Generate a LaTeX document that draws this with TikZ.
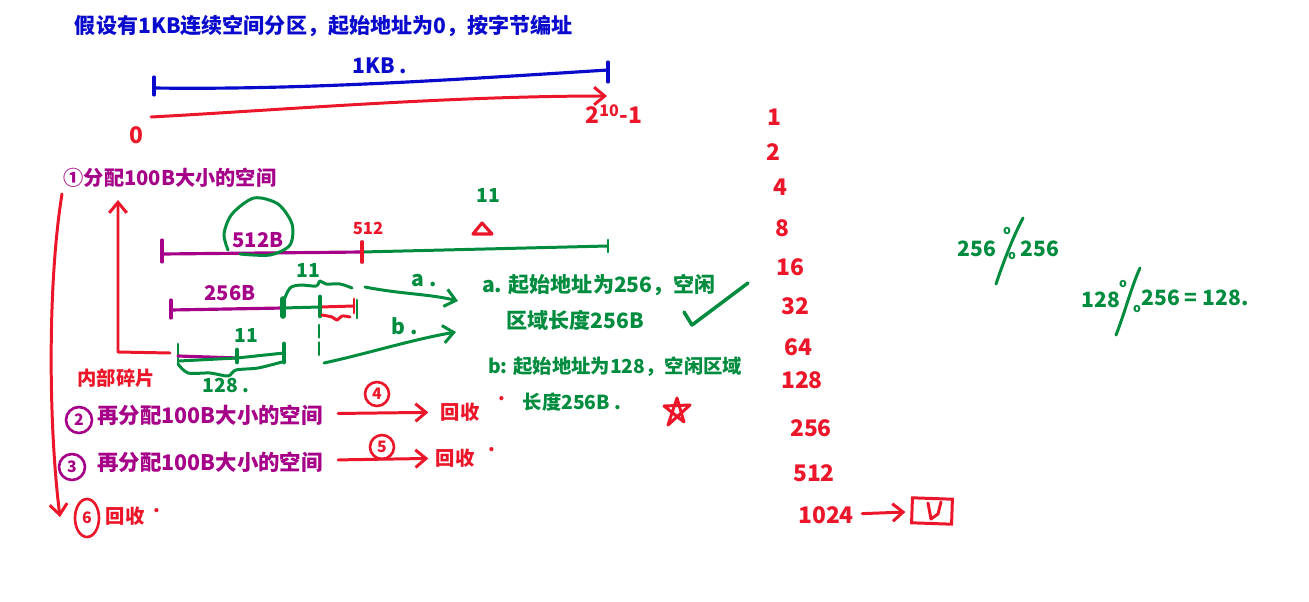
\documentclass[tikz,border=0pt]{standalone}
\usepackage{fontspec}
\setmainfont{Noto Sans CJK SC}
\usetikzlibrary{arrows.meta,shapes.geometric}
\definecolor{inkblue}{RGB}{10,10,205}
\definecolor{inkred}{RGB}{236,22,42}
\definecolor{inkgreen}{RGB}{0,140,62}
\definecolor{inkpurple}{RGB}{165,0,135}
\tikzset{
  bluepen/.style={draw=inkblue,line width=1.8pt,line cap=round,line join=round},
  redpen/.style={draw=inkred,line width=1.7pt,line cap=round,line join=round},
  greenpen/.style={draw=inkgreen,line width=1.7pt,line cap=round,line join=round},
  purplepen/.style={draw=inkpurple,line width=1.8pt,line cap=round,line join=round},
  bluetext/.style={text=inkblue,inner sep=0pt,font=\bfseries\fontsize{12}{14}\selectfont},
  redtext/.style={text=inkred,inner sep=0pt,font=\bfseries\fontsize{11}{13}\selectfont},
  numtext/.style={text=inkred,inner sep=0pt,font=\bfseries\fontsize{13}{14}\selectfont},
  greentext/.style={text=inkgreen,inner sep=0pt,font=\bfseries\fontsize{11}{13}\selectfont},
  answertext/.style={text=inkgreen,inner sep=0pt,font=\bfseries\fontsize{12}{13}\selectfont},
  purpletext/.style={text=inkpurple,inner sep=0pt,font=\bfseries\fontsize{11.5}{13}\selectfont},
  ring/.style={circle,line width=1.5pt,inner sep=0pt,minimum size=#1*0.02cm},
  barb/.style={-{Straight Barb[length=6pt,width=10pt,line width=1.7pt]}}
}
\begin{document}
\begin{tikzpicture}[x=0.02cm,y=-0.02cm]
\useasboundingbox (0,0) rectangle (1309,602);
\node[bluetext] (title) at (324,26) {假设有1KB连续空间分区，起始地址为0，按字节编址};
\node[bluetext] (sizeLabel) at (380,66) {1KB .};
\coordinate (blueA) at (154,88);
\coordinate (blueB) at (608,70);
\coordinate (redA) at (151,117);
\coordinate (redB) at (607,96);
\draw[bluepen] (blueA)++(0,-11)--++(0,18);
\draw[bluepen] (blueB)++(0,-8)--++(0,20);
\draw[bluepen] (blueA) .. controls (300,90) and (450,80) .. (blueB);
\draw[redpen,barb] (redA) .. controls (280,110) and (450,96) .. (redB);
\node[numtext] (zeroLabel) at (136,135) {0};
\node[numtext] (topLabel) at (614,114) {2\textsuperscript{10}-1};

\node[purpletext] (alloc1) at (170,178) {①分配100B大小的空间};

\coordinate (rowA) at (162,254);
\coordinate (rowB) at (362,252);
\coordinate (rowC) at (608,246);
\draw[purplepen] (rowA)++(0,-14)--++(0,22);
\draw[purplepen] (rowA) -- (rowB);
\draw[greenpen] (rowB) -- (rowC);
\draw[greenpen] (rowC)++(0,-6)--++(0,12);
\draw[redpen,line width=2.2pt] (rowB)++(0,-10)--++(0,20);
\draw[greenpen] plot[smooth] coordinates {(228,250) (224,234) (232,214) (254,198) (278,204) (292,224) (290,245) (270,255) (240,254)};
\node[purpletext] (halfA) at (258,240) {512B};
\node[redtext,font=\bfseries\fontsize{9.5}{10}\selectfont] (halfB) at (368,228) {512};
\node[greentext] (equalA) at (488,195) {11};
\draw[redpen,line width=1.8pt] (482,223)--(473,234)--(492,234)--cycle;

\coordinate (segA) at (171,310);
\coordinate (segB) at (283,308);
\coordinate (segC) at (320,307);
\coordinate (segD) at (354,306);
\draw[purplepen] (segA)++(0,-10)--++(0,18);
\draw[purplepen] (segA) -- (segB);
\draw[greenpen] (segB) -- (segC);
\draw[redpen] (segC) -- (segD);
\draw[greenpen,line width=3.2pt] (segB)++(0,-9)--++(0,17);
\draw[greenpen,line width=2.8pt] (segC)++(0,-10)--++(0,19);
\draw[redpen] (segD)++(0,-7)--++(0,14);
\draw[greenpen] (357,300)--(357,318);
\draw[redpen] plot[smooth] coordinates {(322,315) (332,317) (337,320) (342,316) (350,317)};
\node[purpletext] (quarter) at (230,293) {256B};
\draw[greenpen] plot[smooth] coordinates {(284,300) (290,288) (300,285) (316,286) (320,281) (326,284) (340,284) (352,288)};
\node[greentext] (equalB) at (308,270) {11};
\draw[greenpen,dash pattern=on 7pt off 3pt] (319,325)--(319,355);

\coordinate (lowA) at (178,356);
\coordinate (lowB) at (237,358);
\coordinate (lowC) at (284,353);
\draw[greenpen] (lowA)++(0,-12)--++(0,20);
\draw[purplepen] (lowA) -- (lowB);
\draw[greenpen] (179,361)--(lowB) -- (lowC);
\draw[greenpen,line width=2.8pt] (lowB)++(0,-8)--++(0,12);
\draw[greenpen,line width=2.8pt] (lowC)++(0,-9)--++(0,18);
\draw[greenpen] plot[smooth] coordinates {(178,364) (188,373) (210,373) (228,376) (236,370) (258,368) (282,362)};
\node[greentext] (equalC) at (246,335) {11};
\node[greentext] (quarterB) at (226,385) {128 .};

\coordinate (startA) at (365,287);
\coordinate (endA) at (458,301);
\coordinate (startB) at (324,363);
\coordinate (endB) at (456,332);
\draw[greenpen,barb] (startA) .. controls (400,294) and (430,294) .. (endA);
\draw[greenpen,barb] (startB) .. controls (370,353) and (410,340) .. (endB);
\node[answertext] (letterA) at (424,280) {a .};
\node[answertext] (letterB) at (405,326) {b .};

\coordinate (cornerA) at (170,353);
\coordinate (cornerB) at (118,352);
\coordinate (cornerC) at (118,200);
\draw[redpen,barb] (cornerA) -- (cornerB) -- (cornerC);
\node[redtext] (wasteLabel) at (116,378) {内部碎片};

\node[answertext] (answerA) at (599,285) {a. 起始地址为256，空闲};
\node[answertext] (answerAb) at (575,320) {区域长度256B};
\node[answertext,font=\bfseries\fontsize{11}{13}\selectfont] (answerB) at (615,367) {b: 起始地址为128，空闲区域};
\node[answertext,font=\bfseries\fontsize{11}{13}\selectfont] (answerBb) at (572,402) {长度256B .};
\draw[greenpen,line width=2pt] (684,312)--(692,325)--(748,283);
\draw[redpen] (664,406)--(690,405)--(668,425)--(677,398)--(684,422)--cycle;

\node[purpletext,font=\bfseries\fontsize{12.2}{13}\selectfont] (again2) at (210,415) {再分配100B大小的空间};
\node[purpletext,font=\bfseries\fontsize{12.2}{13}\selectfont] (again3) at (210,462) {再分配100B大小的空间};
\node[draw=inkpurple,text=inkpurple,ring=26,font=\bfseries\fontsize{9}{10}\selectfont] (mark2) at (79,420) {2};
\node[draw=inkpurple,text=inkpurple,ring=26,font=\bfseries\fontsize{9}{10}\selectfont] (mark3) at (72,467) {3};
\node[redtext] (back2) at (460,412) {回收};
\node[redtext] (back3) at (455,458) {回收};
\node[redtext] (dotA) at (502,399) {.};
\node[redtext] (dotB) at (492,450) {.};
\draw[redpen,barb,shorten <=15*0.02cm,shorten >=12*0.02cm] (again2) -- (back2);
\draw[redpen,barb,shorten <=15*0.02cm,shorten >=7*0.02cm] (again3) -- (back3);
\node[draw=inkred,text=inkred,ring=24,font=\bfseries\fontsize{9}{10}\selectfont] (mark4) at (377,394) {4};
\node[draw=inkred,text=inkred,ring=24,font=\bfseries\fontsize{9}{10}\selectfont] (mark5) at (382,447) {5};

\coordinate (longA) at (62,194);
\coordinate (longB) at (60,517);
\draw[redpen,barb] (longA) .. controls (48,280) and (48,420) .. (longB);
\node[ellipse,draw=inkred,text=inkred,line width=1.5pt,inner sep=0pt,minimum width=24*0.02cm,minimum height=38*0.02cm,font=\bfseries\fontsize{9}{10}\selectfont] (mark6) at (87,518) {6};
\node[redtext] (back6) at (125,516) {回收};
\node[redtext] (dotC) at (157,511) {.};

\node[numtext] (num1) at (774,117) {1};
\node[numtext] (num2) at (773,152) {2};
\node[numtext] (num4) at (780,187) {4};
\node[numtext] (num8) at (782,228) {8};
\node[numtext] (num16) at (790,267) {16};
\node[numtext] (num32) at (795,306) {32};
\node[numtext] (num64) at (798,347) {64};
\node[numtext] (num128) at (802,380) {128};
\node[numtext] (num256) at (811,428) {256};
\node[numtext] (num512) at (814,473) {512};
\node[numtext] (num1024) at (826,515) {1024};
\node[draw=inkred,line width=1.7pt,inner sep=0pt,minimum width=40*0.02cm,minimum height=25*0.02cm,rotate=-2] (freeBox) at (932,511) {};
\draw[redpen,barb,shorten <=8*0.02cm,shorten >=5*0.02cm] (num1024) -- (freeBox);
\draw[redpen] (928,503)--(931,519)--(938,514)--(941,502);

\node[answertext] (leftA) at (977,249) {256};
\draw[greenpen] (996,284) .. controls (1004,260) and (1014,235) .. (1023,218);
\node[greentext,font=\bfseries\fontsize{7}{8}\selectfont] (pctA) at (1007,231) {o};
\node[greentext,font=\bfseries\fontsize{7}{8}\selectfont] (pctB) at (1012,256) {o};
\node[answertext] (rightA) at (1040,249) {256};
\node[answertext] (leftB) at (1101,300) {128};
\draw[greenpen] (1116,335) .. controls (1124,315) and (1132,285) .. (1140,268);
\node[greentext,font=\bfseries\fontsize{7}{8}\selectfont] (pctC) at (1123,284) {o};
\node[greentext,font=\bfseries\fontsize{7}{8}\selectfont] (pctD) at (1137,309) {o};
\node[answertext] (rightB) at (1195,298) {256 = 128.};
\end{tikzpicture}
\end{document}
